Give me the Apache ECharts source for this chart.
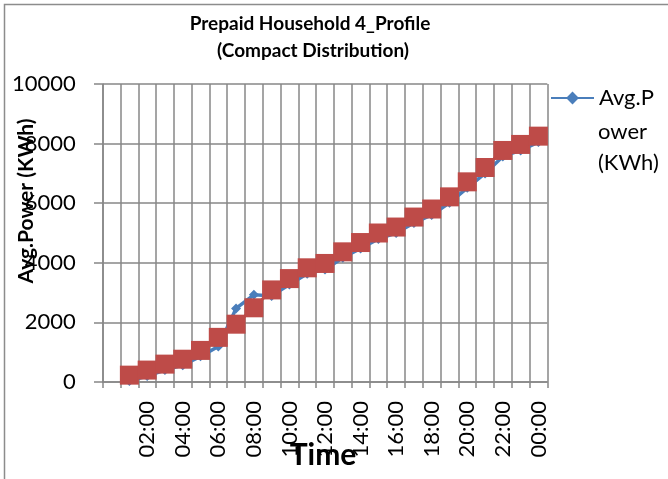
<!DOCTYPE html>
<html>
<head>
<meta charset="utf-8">
<script src="https://cdn.jsdelivr.net/npm/echarts@6/dist/echarts.min.js"></script>
<style>
  html, body { margin: 0; padding: 0; background: #ffffff; }
  #chart { width: 668px; height: 479px; }
</style>
</head>
<body>
<div id="chart"></div>
<script>
// Hourly time slots (the first slot carries no reading)
const hours = ['00:00', '01:00', '02:00', '03:00', '04:00', '05:00', '06:00', '07:00',
  '08:00', '09:00', '10:00', '11:00', '12:00', '13:00', '14:00', '15:00', '16:00',
  '17:00', '18:00', '19:00', '20:00', '21:00', '22:00', '23:00', '00:00'];

// Average power per hour (KWh)
const avgPower = [null, 30, 200, 400, 565, 860, 1190, 2470, 2927, 2890, 3270, 3632,
  3778, 4168, 4480, 4800, 5000, 5335, 5605, 6013, 6517, 6998, 7570, 7772, 8050];

// Compact distribution fitted to the profile
const compactDist = [null, 230, 400, 600, 765, 1060, 1498, 1940, 2490, 3090, 3470, 3832,
  3978, 4368, 4680, 5000, 5200, 5535, 5805, 6213, 6717, 7198, 7770, 7972, 8250];

// Value axis ticks
const yMin = 0;
const yMax = 10000;
const yStep = 2000;

// Legend entry, wrapped over three lines in a narrow column
const legendLines = ['Avg.P', 'ower', '(KWh)'];

const FONT = 'Lato, "Open Sans", "Liberation Sans", sans-serif';
const GRID_GRAY = '#878787';
const BLUE = '#4a7ebb';
const RED = '#be4b48';

const chart = echarts.init(document.getElementById('chart'), null, { renderer: 'canvas' });

const legendExtra = legendLines.slice(1).map((line, i) => ({
  type: 'text', x: 598, y: 132 + i * 31,
  style: {
    text: line, fontFamily: FONT, fontSize: 22, fill: '#000',
    align: 'left', verticalAlign: 'middle'
  }
}));

chart.setOption({
  backgroundColor: '#ffffff',
  animation: false,
  textStyle: { fontFamily: FONT, color: '#000' },
  grid: {
    left: 102.7, right: 120.7, top: 84, bottom: 97,
    outerBoundsMode: 'none'
  },
  legend: {
    data: ['Avg.Power (KWh)'],
    left: 550, top: 87,
    orient: 'vertical',
    padding: 0,
    itemWidth: 43, itemHeight: 16,
    formatter: () => legendLines[0],
    textStyle: { fontFamily: FONT, fontSize: 22, color: '#000' }
  },
  xAxis: {
    type: 'category',
    data: hours,
    boundaryGap: true,
    axisLine: { show: true, lineStyle: { color: GRID_GRAY, width: 1.5 } },
    axisTick: { show: true, interval: 0, length: 6, lineStyle: { color: GRID_GRAY, width: 1.5 } },
    splitLine: { show: true, interval: 0, lineStyle: { color: GRID_GRAY, width: 1.5 } },
    axisLabel: {
      interval: (idx) => idx > 0 && idx % 2 === 0,
      rotate: 90, margin: 19,
      fontFamily: FONT, fontSize: 22, color: '#000'
    }
  },
  yAxis: {
    type: 'value',
    min: yMin, max: yMax, interval: yStep,
    axisLine: { show: true, lineStyle: { color: GRID_GRAY, width: 1.5 } },
    axisTick: { show: true, length: 8.7, lineStyle: { color: GRID_GRAY, width: 1.5 } },
    splitLine: { show: true, lineStyle: { color: GRID_GRAY, width: 1.5 } },
    axisLabel: {
      margin: 27, fontFamily: FONT, fontSize: 22, color: '#000',
      formatter: (v) => String(v)
    }
  },
  series: [
    {
      name: 'Avg.Power (KWh)',
      type: 'line',
      data: avgPower,
      symbol: 'diamond',
      symbolSize: 10,
      showAllSymbol: true,
      itemStyle: { color: BLUE },
      lineStyle: { color: BLUE, width: 3.5 },
      z: 2
    },
    {
      name: 'Compact Distribution',
      type: 'line',
      data: compactDist,
      symbol: 'rect',
      symbolSize: 19,
      showAllSymbol: true,
      itemStyle: { color: RED },
      lineStyle: { color: RED, width: 3 },
      z: 3
    }
  ],
  graphic: [
    {
      type: 'rect',
      shape: { x: 4.5, y: 4.5, width: 800, height: 800 },
      style: { fill: 'none', stroke: '#8c8c8c', lineWidth: 1.5 },
      silent: true
    },
    {
      type: 'text', x: 310, y: 24,
      style: {
        text: 'Prepaid Household 4_Profile', fontFamily: FONT, fontWeight: 'bold',
        fontSize: 19, fill: '#000', align: 'center', verticalAlign: 'middle'
      }
    },
    {
      type: 'text', x: 313, y: 51,
      style: {
        text: '(Compact Distribution)', fontFamily: FONT, fontWeight: 'bold',
        fontSize: 19, fill: '#000', align: 'center', verticalAlign: 'middle'
      }
    },
    {
      type: 'text', x: 26, y: 201, rotation: Math.PI / 2,
      style: {
        text: 'Avg.Power (KWh)', fontFamily: FONT, fontWeight: 'bold',
        fontSize: 21, fill: '#000', align: 'center', verticalAlign: 'middle'
      }
    },
    {
      type: 'text', x: 323, y: 455,
      style: {
        text: 'Time', fontFamily: FONT, fontWeight: 'bold',
        fontSize: 30, fill: '#000', align: 'center', verticalAlign: 'middle'
      }
    }
  ].concat(legendExtra)
});
</script>
</body>
</html>
